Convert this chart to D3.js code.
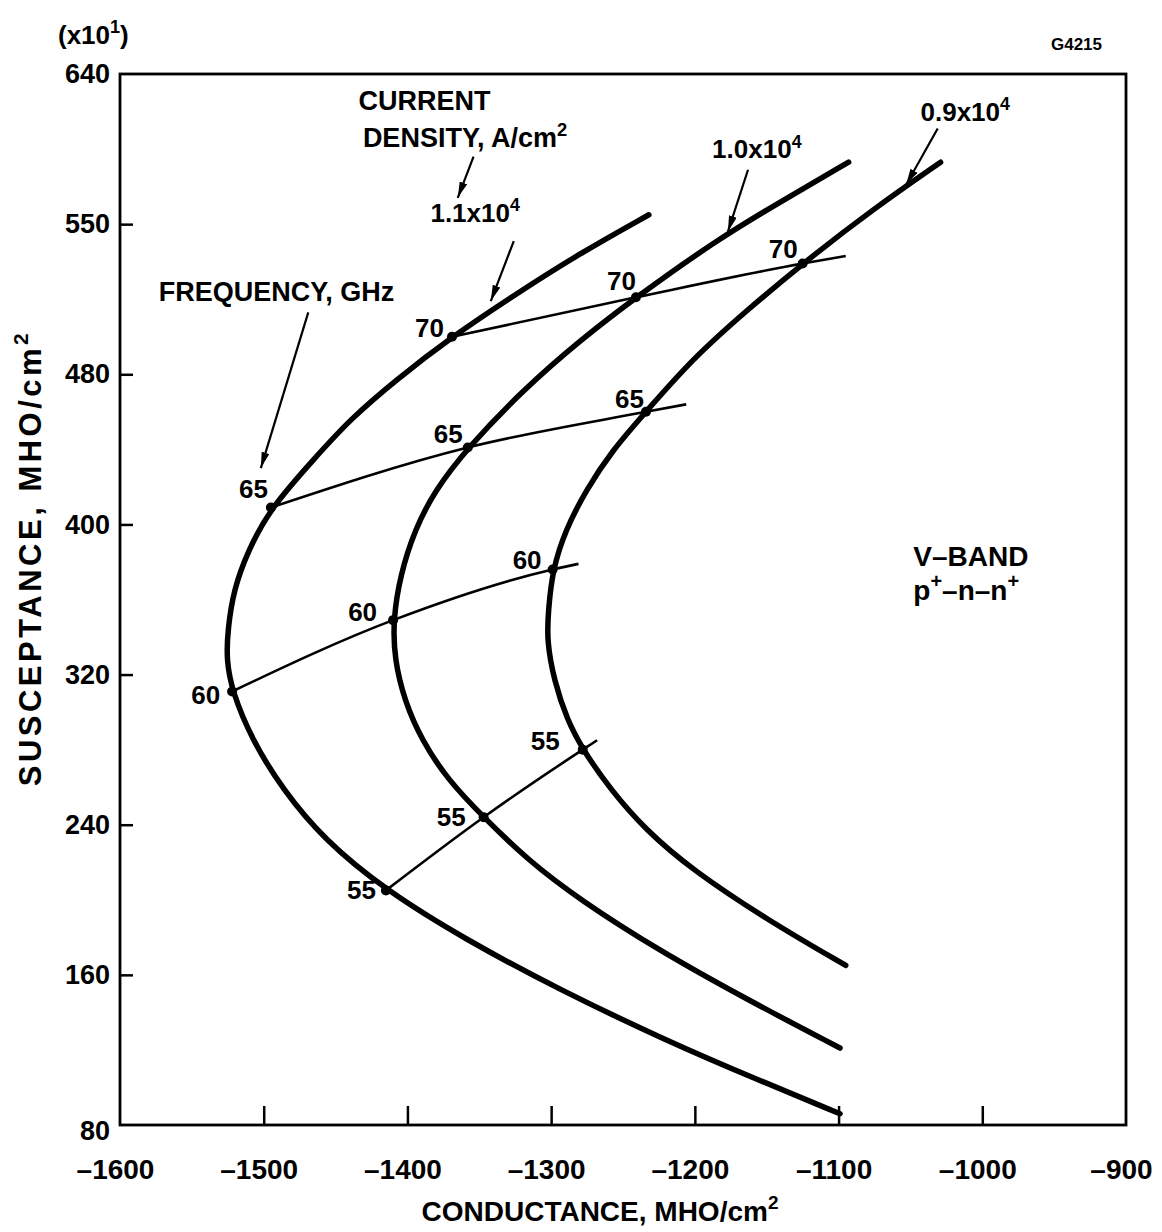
<!DOCTYPE html>
<html><head><meta charset="utf-8">
<script src="https://cdn.jsdelivr.net/npm/d3@7/dist/d3.min.js"></script>
<style>
body{margin:0;background:#fff}
text{font-family:"Liberation Sans",Arial,Helvetica,sans-serif;font-weight:bold;fill:#000}
</style>
</head><body>
<svg id="chart" width="1162" height="1232"></svg>
<script>
// ---- axis ticks ----
const xTickValues = [-1600,-1500,-1400,-1300,-1200,-1100,-1000,-900];
const xTickLabels = ["\u20131600","\u20131500","\u20131400","\u20131300","\u20131200","\u20131100","\u20131000","\u2013900"];
const yTickValues = [80,160,240,320,400,480,560,640];
const yTickLabels = ["80","160","240","320","400","480","550","640"];

// ---- current density curves (conductance, susceptance x10^1) ----
const densityLabels = ["1.1","1.0","0.9"];
const curve11X = [-1232,-1281,-1326,-1369,-1408,-1440,-1466,-1495,-1511,-1521,-1525,-1526,-1522,-1508,-1487,-1458,-1415,-1360,-1294,-1220,-1156,-1099];
const curve11Y = [565,544,522,500,477,456,434,409,386,365,344,328,311,285,259,232,205,179,152,125,104,86];
const curve10X = [-1093,-1138,-1184,-1241,-1280,-1319,-1358,-1381,-1395,-1405,-1410,-1409,-1402,-1390,-1372,-1347,-1316,-1280,-1225,-1164,-1099];
const curve10Y = [593,573,552,521,498,472,441,418,397,373,349,328,306,285,264,244,221,200,173,147,121];
const curve09X = [-1029,-1076,-1125,-1164,-1202,-1234,-1257,-1276,-1290,-1299,-1302,-1303,-1298,-1289,-1278,-1259,-1234,-1202,-1149,-1095];
const curve09Y = [593,568,539,514,488,460,440,418,397,376,354,338,317,296,280,259,237,216,189,165];

// ---- constant-frequency lines (GHz); first three points are the curve crossings ----
const freqLabels = ["55","60","65","70"];
const freq55X = [-1415,-1347,-1278,-1268];
const freq55Y = [205,244,280,285];
const freq60X = [-1522,-1410,-1299,-1281];
const freq60Y = [311,349,376,379];
const freq65X = [-1495,-1358,-1234,-1206];
const freq65Y = [409,441,460,464];
const freq70X = [-1369,-1241,-1125,-1095];
const freq70Y = [500,521,539,543];

// ---- layout (pixel offsets of frequency labels from their points) ----
const freqLabelOffsets = [
  [[-10,9],[-18,9],[-23,0]],
  [[-12,13],[-16,1],[-11,0]],
  [[-3,-10],[-5,-4],[-2,-4]],
  [[-8,0],[0,-7],[-5,-6]]
];

const svg = d3.select("#chart");
const x = d3.scaleLinear().domain([-1600,-900]).range([120,1126]);
const y = d3.scaleLinear().domain([80,640]).range([1125,74]);

svg.append("defs").append("marker")
  .attr("id","arr").attr("viewBox","0 0 16 8").attr("refX",16).attr("refY",4)
  .attr("markerWidth",16).attr("markerHeight",8).attr("markerUnits","userSpaceOnUse")
  .attr("orient","auto")
  .append("path").attr("d","M0,0 L16,4 L0,8 Z").attr("fill","#000");

// axes
const xAxis = d3.axisBottom(x).tickValues(xTickValues)
  .tickFormat((d,i)=>xTickLabels[i]).tickSizeInner(-19).tickSizeOuter(0).tickPadding(34);
const gx = svg.append("g").attr("transform",`translate(0,${y(80)})`).call(xAxis);
gx.select(".domain").remove();
gx.selectAll(".tick line").attr("stroke","#000").attr("stroke-width",2.5)
  .filter(d=>d===-1600||d===-900).remove();
gx.selectAll(".tick text").attr("font-size",28).attr("font-family",null).attr("dx",-5);

const yAxis = d3.axisLeft(y).tickValues(yTickValues)
  .tickFormat((d,i)=>yTickLabels[i]).tickSizeInner(-13).tickSizeOuter(0).tickPadding(10);
const gy = svg.append("g").attr("transform",`translate(${x(-1600)},0)`).call(yAxis);
gy.select(".domain").remove();
gy.selectAll(".tick line").attr("stroke","#000").attr("stroke-width",2.5)
  .filter(d=>d===80||d===640).remove();
gy.selectAll(".tick text").attr("font-size",27).attr("font-family",null);
gy.selectAll(".tick").filter(d=>d===80).select("text").attr("dy","0.55em");

// frame
svg.append("rect").attr("x",x(-1600)).attr("y",y(640))
  .attr("width",x(-900)-x(-1600)).attr("height",y(80)-y(640))
  .attr("fill","none").attr("stroke","#000").attr("stroke-width",2.8);

// curves
const line = d3.line().x(d=>x(d[0])).y(d=>y(d[1])).curve(d3.curveBasis);
const zip = (a,b)=>a.map((v,i)=>[v,b[i]]);
const curves = [zip(curve11X,curve11Y), zip(curve10X,curve10Y), zip(curve09X,curve09Y)];
svg.append("g").selectAll("path").data(curves).join("path")
  .attr("d",line).attr("fill","none").attr("stroke","#000")
  .attr("stroke-width",5.5).attr("stroke-linecap","round").attr("stroke-linejoin","round");

const freqs = [zip(freq55X,freq55Y), zip(freq60X,freq60Y), zip(freq65X,freq65Y), zip(freq70X,freq70Y)];
const fline = d3.line().x(d=>x(d[0])).y(d=>y(d[1])).curve(d3.curveMonotoneX);
svg.append("g").selectAll("path").data(freqs).join("path")
  .attr("d",fline).attr("fill","none").attr("stroke","#000").attr("stroke-width",2.6);

// dots & labels
freqs.forEach((pts,fi)=>{
  pts.slice(0,3).forEach((p,ci)=>{
    svg.append("circle").attr("cx",x(p[0])).attr("cy",y(p[1])).attr("r",5).attr("fill","#000");
    const off = freqLabelOffsets[fi][ci];
    svg.append("text").attr("x",x(p[0])+off[0]).attr("y",y(p[1])+off[1])
      .attr("text-anchor","end").attr("font-size",26).text(freqLabels[fi]);
  });
});

// annotation helpers
function sup(t, base, s, size){
  const el = svg.append("text").attr("x",t[0]).attr("y",t[1]).attr("font-size",size);
  el.append("tspan").text(base);
  el.append("tspan").attr("font-size",size*0.68).attr("dy",-size*0.42).text(s);
  return el;
}
function arrow(a,b){
  svg.append("line").attr("x1",x(a[0])).attr("y1",y(a[1])).attr("x2",x(b[0])).attr("y2",y(b[1]))
    .attr("stroke","#000").attr("stroke-width",2.2).attr("marker-end","url(#arr)");
}

svg.append("text").attr("x",x(-1434)).attr("y",y(621)).attr("font-size",27).text("CURRENT");
sup([x(-1431),y(601)],"DENSITY, A/cm","2",27);
arrow([-1354,596],[-1365,574]);
sup([x(-1384),y(561)], densityLabels[0]+"x10","4",26);
arrow([-1326,551],[-1342,519]);
sup([x(-1188),y(595)], densityLabels[1]+"x10","4",26);
arrow([-1163,589],[-1177,556]);
sup([x(-1043),y(615)], densityLabels[2]+"x10","4",26);
arrow([-1031,611],[-1053,581]);

svg.append("text").attr("x",x(-1573)).attr("y",y(519)).attr("font-size",27).text("FREQUENCY, GHz");
arrow([-1469,513],[-1502,430]);

svg.append("text").attr("x",x(-1048)).attr("y",y(378)).attr("font-size",28).text("V\u2013BAND");
const pn = svg.append("text").attr("x",x(-1048)).attr("y",y(360)).attr("font-size",28);
pn.append("tspan").text("p");
pn.append("tspan").attr("font-size",20).attr("dy",-12).text("+");
pn.append("tspan").attr("dy",12).text("\u2013n\u2013n");
pn.append("tspan").attr("font-size",20).attr("dy",-12).text("+");

// axis titles
const xt = svg.append("text").attr("x",600).attr("y",1221).attr("text-anchor","middle").attr("font-size",28);
xt.append("tspan").text("CONDUCTANCE, MHO/cm");
xt.append("tspan").attr("font-size",19).attr("dy",-12).text("2");

const yt = svg.append("text").attr("transform","translate(41,558) rotate(-90)")
  .attr("text-anchor","middle").attr("font-size",31).attr("letter-spacing",3.5);
yt.append("tspan").text("SUSCEPTANCE, MHO/cm");
yt.append("tspan").attr("font-size",21).attr("dy",-13).text("2");

const mult = svg.append("text").attr("x",58).attr("y",44).attr("font-size",26);
mult.append("tspan").text("(x10");
mult.append("tspan").attr("font-size",18).attr("dy",-11).text("1");
mult.append("tspan").attr("dy",11).text(")");

svg.append("text").attr("x",1102).attr("y",50).attr("text-anchor","end").attr("font-size",17).text("G4215");
</script>
</body></html>
